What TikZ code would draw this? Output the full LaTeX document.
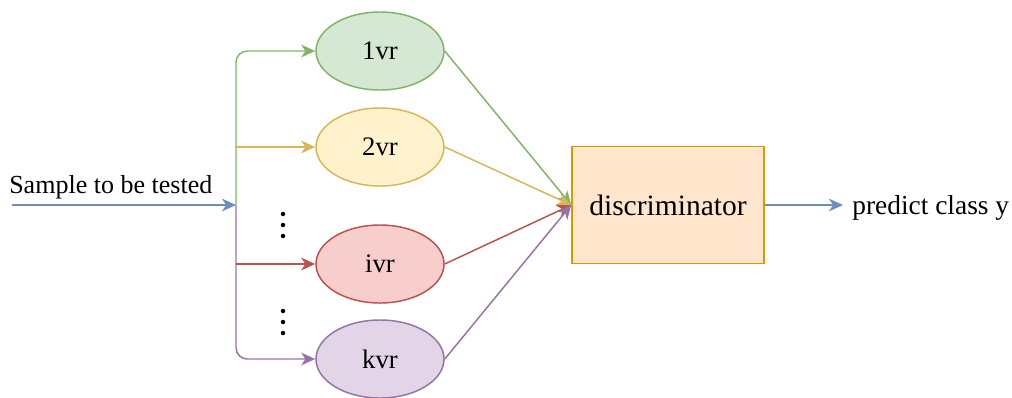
\documentclass[tikz,border=0pt]{standalone}
\usepackage{fontspec}
\setmainfont{Liberation Serif}
\usetikzlibrary{shapes.geometric,arrows.meta}
\definecolor{bluel}{HTML}{6C8EBF}
\definecolor{greenl}{HTML}{82B366}
\definecolor{greenf}{HTML}{D5E8D4}
\definecolor{yell}{HTML}{D6B656}
\definecolor{yelf}{HTML}{FFF2CC}
\definecolor{redl}{HTML}{B85450}
\definecolor{redf}{HTML}{F8CECC}
\definecolor{purl}{HTML}{9673A6}
\definecolor{purf}{HTML}{E1D5E7}
\definecolor{orgl}{HTML}{D79B00}
\definecolor{orgf}{HTML}{FFE6CC}
\tikzset{
  arr/.style={line width=1.05pt,-{Stealth[length=10pt,width=9pt,inset=3pt]}},
  voter/.style={ellipse,line width=1.05pt,minimum width=3.2cm,minimum height=1.95cm,inner sep=0pt,font=\fontsize{19}{21}\selectfont},
  label/.style={inner sep=0pt,font=\fontsize{18.5}{21}\selectfont},
  dotmark/.style={fill=black,draw=none,circle,inner sep=0pt,minimum size=3.2pt},
}
\begin{document}
\begin{tikzpicture}[x=0.025cm,y=-0.025cm]
\useasboundingbox (0,0) rectangle (1012,397);

% one-vs-rest classifiers
\node[voter,draw=greenl,fill=greenf] (v1) at (380,51) {1vr};
\node[voter,draw=yell,fill=yelf] (v2) at (380,147) {2vr};
\node[voter,draw=redl,fill=redf] (vi) at (380,264) {ivr};
\node[voter,draw=purl,fill=purf] (vk) at (380,359) {kvr};

% final decision box
\node[draw=orgl,fill=orgf,line width=1.05pt,minimum width=4.8cm,minimum height=2.925cm,inner sep=0pt,font=\fontsize{21}{23}\selectfont] (disc) at (668,205) {discriminator};

% input and fan-out
\coordinate (in) at (12,205);
\coordinate (split) at (236,205);
\coordinate (b2) at (236,147);
\coordinate (bi) at (236,264);
\node[label,anchor=base west] (sample) at (9,193) {Sample to be tested};

\draw[arr,greenl,rounded corners=8pt] (split) |- (v1.west);
\draw[arr,purl,rounded corners=8pt] (split) |- (vk.west);
\draw[arr,yell] (b2) -- (v2.west);
\draw[arr,redl] (bi) -- (vi.west);
\draw[arr,bluel] (in) -- (split);

% vertical ellipses between the classifiers
\foreach \y in {214,225,236} \node[dotmark] at (283,\y) {};
\foreach \y in {311,322,333} \node[dotmark] at (283,\y) {};

% votes into the discriminator
\draw[arr,greenl] (v1.east) -- (disc.west);
\draw[arr,yell] (v2.east) -- (disc.west);
\draw[arr,redl] (vi.east) -- (disc.west);
\draw[arr,purl] (vk.east) -- (disc.west);

% output
\coordinate (out) at (843,205);
\draw[arr,bluel] (disc.east) -- (out);
\node[label,anchor=west,font=\fontsize{19.5}{22}\selectfont] (pred) at (852,208) {predict class y};
\end{tikzpicture}
\end{document}
